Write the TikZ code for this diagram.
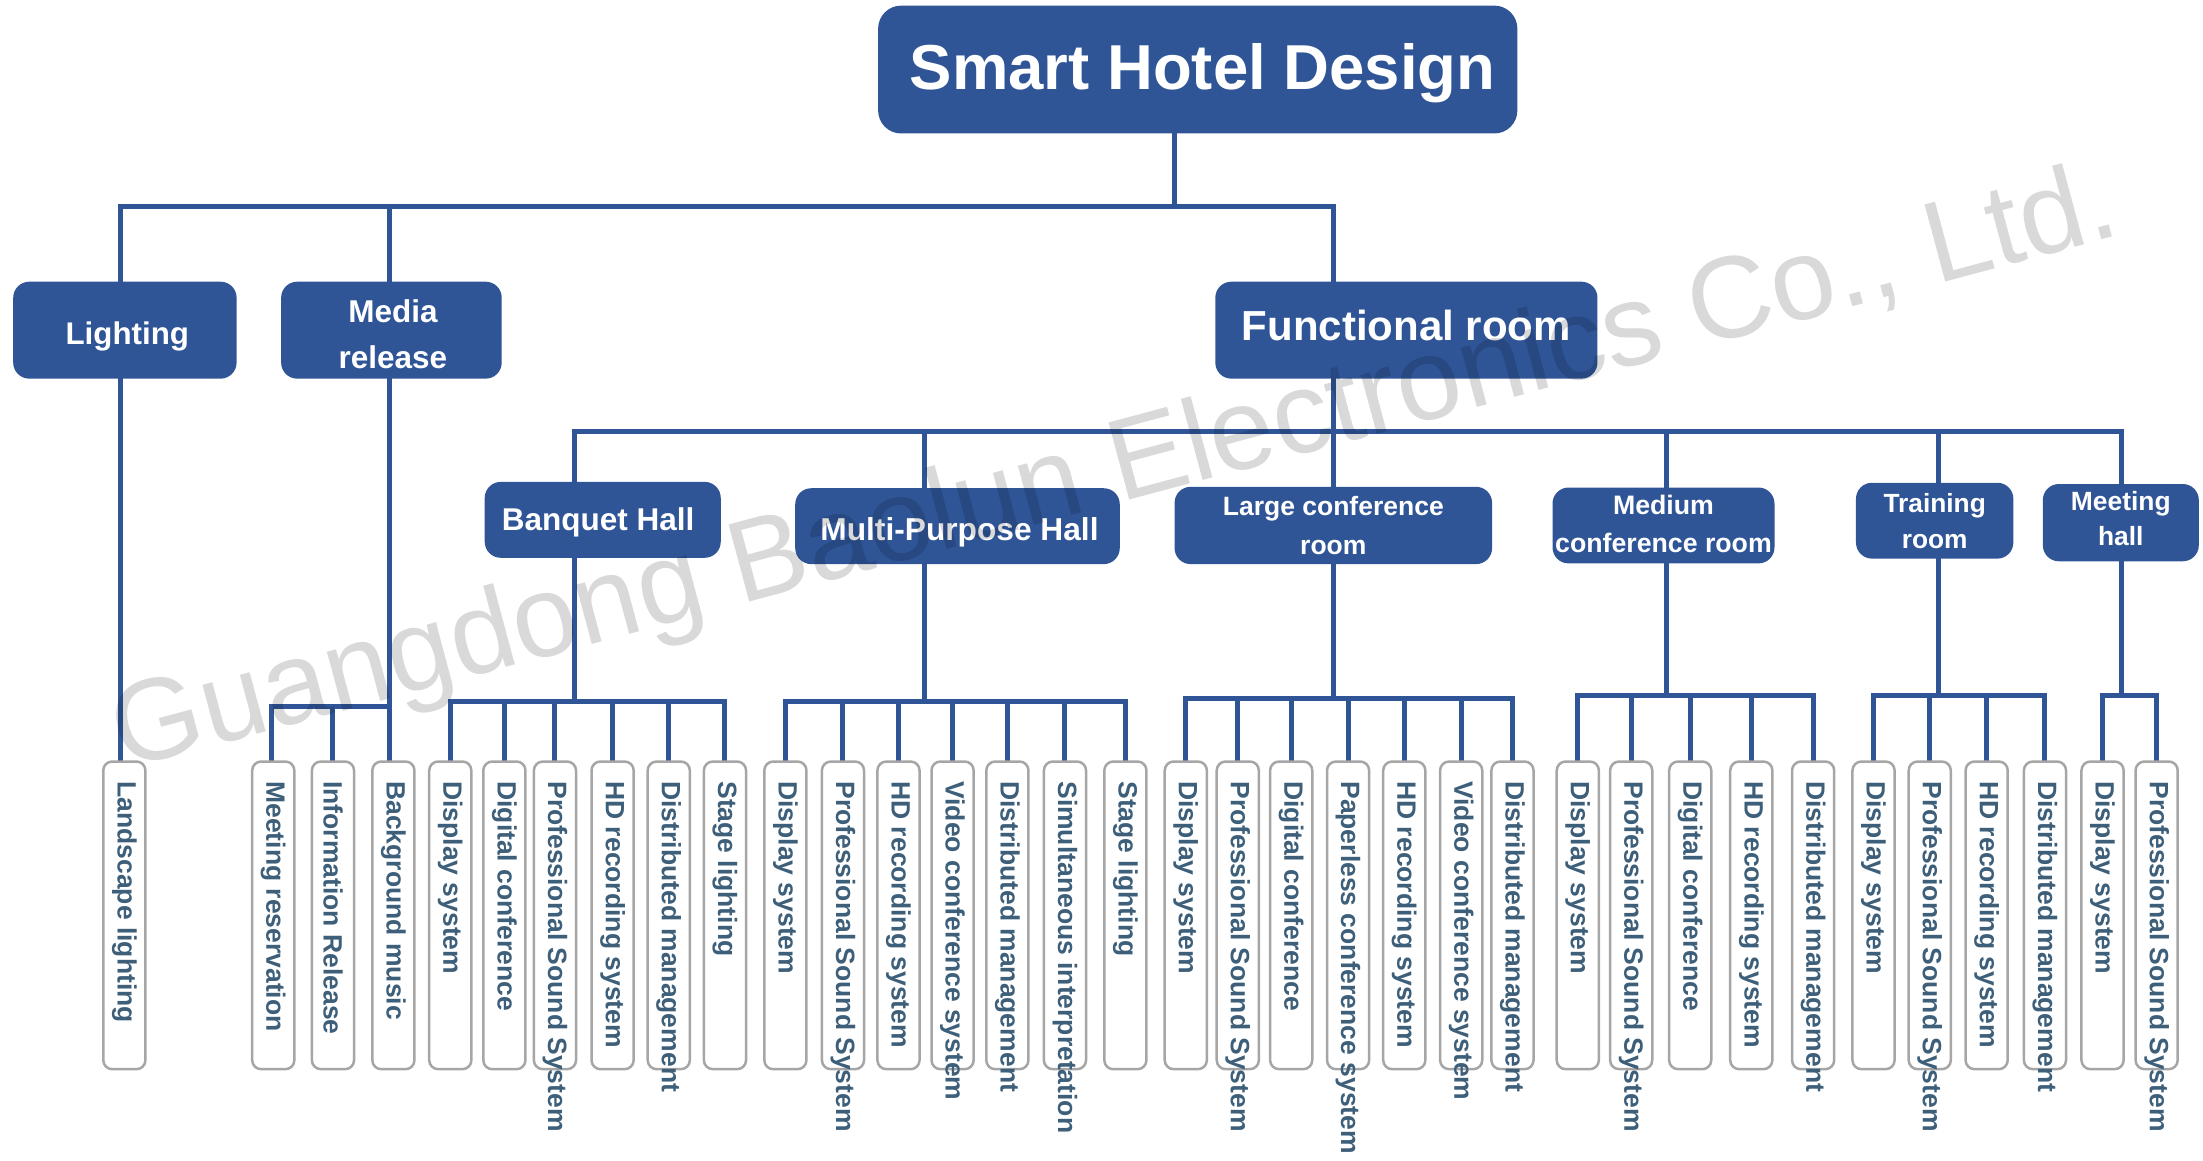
\documentclass[tikz,border=0pt]{standalone}
\usepackage{fontspec}
\setmainfont{Liberation Sans}
\definecolor{boxblue}{RGB}{47,85,151}
\definecolor{leaftext}{RGB}{61,95,122}
\definecolor{leafedge}{RGB}{166,166,166}
\def\upx{1.405pt}
\pgfdeclarelayer{bg}
\pgfsetlayers{bg,main}
\tikzset{
 conn/.style={draw=boxblue, line width=5pt, line cap=rect},
 hbox/.style={fill=boxblue, rounded corners=16pt, inner sep=0pt},
 htext/.style={text=white, inner sep=0pt, align=center},
 leafbox/.style={draw=leafedge, line width=2.5pt, fill=white, rounded corners=9pt, minimum width=30*\upx, minimum height=219*\upx, inner sep=0pt},
 leaflabel/.style={rotate=-90, anchor=west, text=leaftext, font=\fontsize{26.5}{30}\selectfont\bfseries, inner sep=0pt},
 wmark/.style={rotate=15, anchor=base west, text=black, opacity=0.15, font=\fontsize{116}{120}\selectfont, inner sep=0pt},
}
\newcommand\leafnode[3]{\node[leafbox] (#1) at (#2,651.5) {}; \node[leaflabel] (#1t) at (#2,556) {#3};}
\begin{document}
\begin{tikzpicture}[x=1.405pt, y=-1.405pt]
\useasboundingbox (0,0) rectangle (1568,826);
% header boxes
\node[hbox, rounded corners=23pt, minimum width=455*\upx, minimum height=91*\upx] (title) at (852.5,49.5) {};
\node[htext, font=\fontsize{63.5}{70}\selectfont\bfseries] (titlet) at ([xshift=4.9pt, yshift=-3.8pt]title.center) {Smart Hotel Design};
\node[hbox, minimum width=159*\upx, minimum height=69*\upx] (light) at (88.9,235) {};
\node[htext, font=\fontsize{31.3}{45}\selectfont\bfseries] (lightt) at ([xshift=2.4pt, yshift=-5.9pt]light.center) {Lighting};
\node[hbox, minimum width=157*\upx, minimum height=69*\upx] (media) at (278.6,235) {};
\node[htext, font=\fontsize{31.5}{46}\selectfont\bfseries] (mediat) at ([xshift=1.5pt, yshift=-4.4pt]media.center) {Media\\release};
\node[hbox, minimum width=272*\upx, minimum height=69*\upx] (func) at (1001,235) {};
\node[htext, font=\fontsize{42}{50}\selectfont\bfseries] (funct) at ([yshift=4.9pt]func.center) {Functional room};
\node[hbox, minimum width=168*\upx, minimum height=54*\upx] (bh) at (429,370) {};
\node[htext, font=\fontsize{31.5}{40}\selectfont\bfseries] (bht) at ([xshift=-4.6pt, yshift=-2.4pt]bh.center) {Banquet Hall};
\node[hbox, minimum width=231*\upx, minimum height=54*\upx] (mp) at (681.5,374.5) {};
\node[htext, font=\fontsize{31.7}{40}\selectfont\bfseries] (mpt) at ([xshift=2pt, yshift=-6.6pt]mp.center) {Multi-Purpose Hall};
\node[hbox, minimum width=226*\upx, minimum height=55*\upx] (lc) at (949,374) {};
\node[htext, font=\fontsize{26.5}{39}\selectfont\bfseries] (lct) at (lc.center) {Large conference\\room};
\node[hbox, minimum width=158*\upx, minimum height=54*\upx] (mc) at (1184,374) {};
\node[htext, font=\fontsize{26.7}{38.5}\selectfont\bfseries] (mct) at ([yshift=1.5pt]mc.center) {Medium\\conference room};
\node[hbox, minimum width=112*\upx, minimum height=54*\upx] (tr) at (1377,370.6) {};
\node[htext, font=\fontsize{26.3}{36}\selectfont\bfseries] (trt) at (tr.center) {Training\\room};
\node[hbox, minimum width=111*\upx, minimum height=55*\upx] (mh) at (1509.5,372) {};
\node[htext, font=\fontsize{26.4}{35}\selectfont\bfseries] (mht) at ([yshift=4pt]mh.center) {Meeting\\hall};
% leaves
\leafnode{land}{88.5}{Landscape lighting}
\leafnode{mres}{194.5}{Meeting reservation}
\leafnode{info}{237}{Information Release}
\leafnode{bgm}{280}{Background music}
\leafnode{bh1}{320.5}{Display system}
\leafnode{bh2}{359}{Digital conference}
\leafnode{bh3}{395}{Professional Sound System}
\leafnode{bh4}{436}{HD recording system}
\leafnode{bh5}{476}{Distributed management}
\leafnode{bh6}{516}{Stage lighting}
\leafnode{mp1}{559}{Display system}
\leafnode{mp2}{600}{Professional Sound System}
\leafnode{mp3}{639.5}{HD recording system}
\leafnode{mp4}{678}{Video conference system}
\leafnode{mp5}{717}{Distributed management}
\leafnode{mp6}{758}{Simultaneous interpretation}
\leafnode{mp7}{801}{Stage lighting}
\leafnode{lc1}{844}{Display system}
\leafnode{lc2}{881}{Professional Sound System}
\leafnode{lc3}{919}{Digital conference}
\leafnode{lc4}{959.5}{Paperless conference system}
\leafnode{lc5}{999.5}{HD recording system}
\leafnode{lc6}{1040}{Video conference system}
\leafnode{lc7}{1076.5}{Distributed management}
\leafnode{mc1}{1123}{Display system}
\leafnode{mc2}{1161}{Professional Sound System}
\leafnode{mc3}{1203}{Digital conference}
\leafnode{mc4}{1246.5}{HD recording system}
\leafnode{mc5}{1290.5}{Distributed management}
\leafnode{tr1}{1333.5}{Display system}
\leafnode{tr2}{1373.5}{Professional Sound System}
\leafnode{tr3}{1414}{HD recording system}
\leafnode{tr4}{1455.5}{Distributed management}
\leafnode{mh1}{1496.5}{Display system}
\leafnode{mh2}{1535}{Professional Sound System}
% junction coordinates
\coordinate (t0) at (836,147);
\coordinate (t1) at (86,147);
\coordinate (t2) at (277,147);
\coordinate (t3) at (949,147);
\coordinate (m1) at (193,503);
\coordinate (f0) at (949,307);
\coordinate (fL) at (409,307);
\coordinate (fmp) at (658,307);
\coordinate (fmc) at (1186,307);
\coordinate (ftr) at (1380,307);
\coordinate (fR) at (1510,307);
\coordinate (gbh) at (409,499);
\coordinate (gmp) at (658,499);
\coordinate (glc) at (949,497);
\coordinate (gmc) at (1186,495);
\coordinate (gtr) at (1380,495);
\coordinate (gmh) at (1510,495);
\begin{pgfonlayer}{bg}
\draw[conn] (title.south -| t0) -- (t0);
\draw[conn] (t1) -- (t3);
\draw[conn] (t1) -- (light.north -| t1);
\draw[conn] (t2) -- (media.north -| t2);
\draw[conn] (t3) -- (func.north -| t3);
\draw[conn] (light.south -| t1) -- (land.north -| t1);
\draw[conn] (media.south -| t2) -- (bgm.north -| t2);
\draw[conn] (m1) -- (m1 -| t2);
\draw[conn] (m1) -- (mres.north -| m1);
\draw[conn] (m1 -| info.north) -- (info.north);
\draw[conn] (func.south -| f0) -- (f0);
\draw[conn] (fL) -- (fR);
\draw[conn] (fL) -- (bh.north -| fL);
\draw[conn] (fmp) -- (mp.north -| fmp);
\draw[conn] (f0) -- (lc.north -| f0);
\draw[conn] (fmc) -- (mc.north -| fmc);
\draw[conn] (ftr) -- (tr.north -| ftr);
\draw[conn] (fR) -- (mh.north -| fR);
\draw[conn] (bh.south -| gbh) -- (gbh);
\draw[conn] (mp.south -| gmp) -- (gmp);
\draw[conn] (lc.south -| glc) -- (glc);
\draw[conn] (mc.south -| gmc) -- (gmc);
\draw[conn] (tr.south -| gtr) -- (gtr);
\draw[conn] (mh.south -| gmh) -- (gmh);
\draw[conn] (bh1.north |- gbh) -- (bh6.north |- gbh);
\draw[conn] (mp1.north |- gmp) -- (mp7.north |- gmp);
\draw[conn] (lc1.north |- glc) -- (lc7.north |- glc);
\draw[conn] (mc1.north |- gmc) -- (mc5.north |- gmc);
\draw[conn] (tr1.north |- gtr) -- (tr4.north |- gtr);
\draw[conn] (mh1.north |- gmh) -- (mh2.north |- gmh);
\foreach \n in {bh1,bh2,bh3,bh4,bh5,bh6} \draw[conn] (\n.north |- gbh) -- (\n.north);
\foreach \n in {mp1,mp2,mp3,mp4,mp5,mp6,mp7} \draw[conn] (\n.north |- gmp) -- (\n.north);
\foreach \n in {lc1,lc2,lc3,lc4,lc5,lc6,lc7} \draw[conn] (\n.north |- glc) -- (\n.north);
\foreach \n in {mc1,mc2,mc3,mc4,mc5} \draw[conn] (\n.north |- gmc) -- (\n.north);
\foreach \n in {tr1,tr2,tr3,tr4} \draw[conn] (\n.north |- gtr) -- (\n.north);
\foreach \n in {mh1,mh2} \draw[conn] (\n.north |- gmh) -- (\n.north);
\end{pgfonlayer}
% watermark
\node[wmark] (wm) at (88,548) {Guangdong Baolun Electronics Co., Ltd.};
\end{tikzpicture}
\end{document}
